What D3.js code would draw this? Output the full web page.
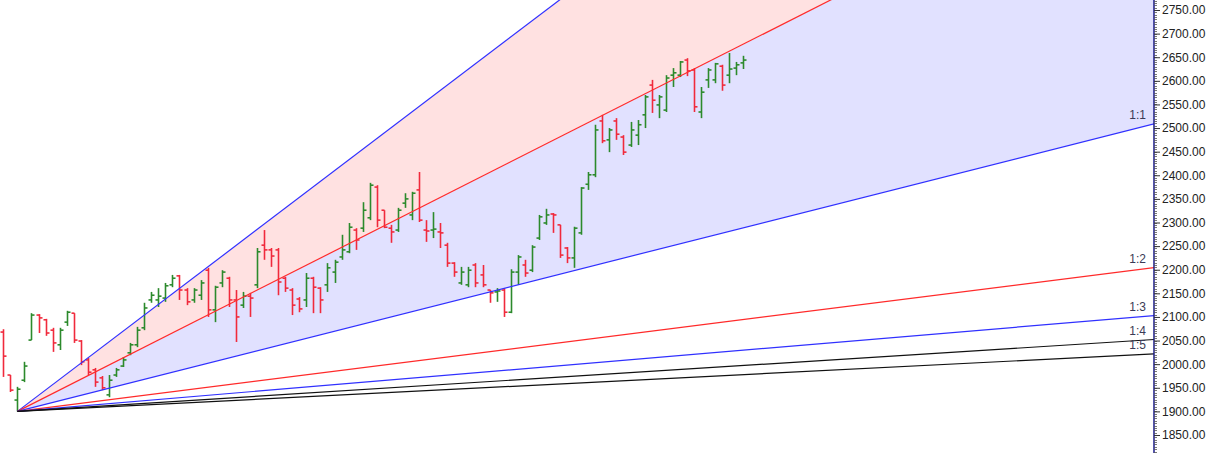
<!DOCTYPE html>
<html><head><meta charset="utf-8">
<script src="https://cdn.jsdelivr.net/npm/d3@7"></script>
<style>html,body{margin:0;padding:0;background:#fff;overflow:hidden}svg{display:block}</style>
</head><body>
<svg id="c" width="1211" height="453"></svg>
<script>
const opens  = [2068,1977,1924,1966,2051,2104,2094,2072,2041,2089,2108,2049,2009,1988,1971,1935,1977,1996,2024,2041,2077,2136,2136,2140,2168,2187,2157,2136,2146,2199,2115,2172,2182,2136,2125,2144,2168,2252,2242,2242,2182,2157,2138,2136,2182,2161,2168,2195,2227,2238,2284,2288,2310,2375,2326,2288,2284,2341,2316,2369,2284,2284,2280,2252,2214,2172,2168,2210,2189,2157,2153,2157,2110,2195,2210,2199,2267,2299,2318,2295,2246,2225,2278,2381,2401,2515,2475,2515,2481,2464,2485,2528,2591,2549,2538,2612,2612,2644,2623,2534,2602,2602,2631,2612,2627,2638];
const highs  = [2074,1977,1952,2005,2108,2106,2096,2077,2077,2113,2108,2051,2013,1992,1975,1977,1992,2015,2045,2079,2130,2153,2161,2172,2189,2189,2161,2161,2178,2204,2166,2199,2185,2157,2153,2151,2246,2284,2246,2246,2185,2161,2142,2193,2185,2163,2214,2221,2274,2299,2288,2343,2384,2379,2326,2295,2331,2362,2365,2407,2305,2322,2299,2257,2216,2206,2206,2214,2210,2157,2161,2161,2201,2231,2221,2252,2316,2329,2320,2295,2248,2291,2375,2407,2507,2528,2500,2521,2485,2513,2517,2570,2602,2570,2612,2627,2642,2648,2627,2587,2627,2638,2634,2659,2640,2653];
const lows   = [1973,1941,1900,1962,2051,2066,2060,2026,2030,2081,2045,1998,1977,1952,1945,1930,1973,1994,2019,2036,2072,2130,2121,2132,2163,2136,2125,2130,2136,2100,2089,2163,2121,2047,2119,2100,2161,2221,2206,2146,2153,2104,2110,2121,2108,2108,2153,2172,2221,2235,2242,2280,2305,2290,2288,2257,2280,2331,2305,2301,2259,2267,2246,2206,2185,2168,2163,2163,2163,2130,2132,2100,2108,2168,2185,2195,2263,2295,2278,2225,2214,2204,2274,2369,2396,2468,2449,2475,2443,2460,2464,2500,2532,2521,2534,2587,2608,2610,2534,2521,2585,2595,2579,2595,2612,2625];
const closes = [2017,1945,1947,1996,2104,2098,2066,2045,2072,2110,2051,2005,1983,1962,1950,1966,1988,2009,2041,2072,2119,2146,2144,2166,2182,2157,2132,2157,2172,2115,2163,2195,2136,2100,2144,2140,2238,2242,2229,2174,2161,2125,2117,2182,2163,2136,2204,2216,2242,2290,2263,2326,2379,2305,2290,2280,2326,2350,2362,2305,2282,2286,2278,2214,2195,2195,2199,2172,2168,2151,2155,2110,2195,2227,2193,2248,2312,2316,2316,2231,2225,2288,2373,2401,2496,2473,2496,2487,2449,2496,2507,2566,2559,2566,2606,2617,2640,2621,2545,2576,2623,2636,2591,2625,2634,2644];
const yTicks = [1850,1900,1950,2000,2050,2100,2150,2200,2250,2300,2350,2400,2450,2500,2550,2600,2650,2700,2750];
const fanRatios = [3, 2, 1, 1/2, 1/3, 1/4, 1/5];
const fanNames  = ["3:1","2:1","1:1","1:2","1:3","1:4","1:5"];
const fanColors = ["#3030ff","#ff2a2a","#3030ff","#ff2a2a","#3030ff","#111111","#111111"];
const fanOrigin = {index: 2, price: 1900};
const unitPerBar = 3.775;

const W = 1211, H = 453, axisX = 1154;
const svg = d3.select("#c");
const x = d3.scaleLinear().domain([0, 105]).range([3.3, 743.3]);
const y = d3.scaleLinear().domain([2750, 1850]).range([10, 435]);
const xEnd = x.invert(axisX);

const defs = svg.append("defs");
defs.append("clipPath").attr("id","plot").append("rect").attr("x",0).attr("y",0).attr("width",axisX).attr("height",H);
const g = svg.append("g").attr("clip-path","url(#plot)");

const fanPrice = (r, i) => fanOrigin.price + r * unitPerBar * (i - fanOrigin.index);
const pts = r => [[x(fanOrigin.index), y(fanOrigin.price)], [x(xEnd), y(fanPrice(r, xEnd))]];

// fills
const band = (r1, r2, col) => {
  const a = pts(r1), b = pts(r2);
  g.append("path").attr("d", d3.line()([a[0], a[1], b[1], b[0]]) + "Z").attr("fill", col).attr("stroke","none");
};
band(3, 2, "#ffe1e1");
band(2, 1, "#e1e1ff");

// bars
const data = opens.map((o,i)=>({i, o, h: highs[i], l: lows[i], c: closes[i]}));
const bars = g.append("g");
data.forEach(d => {
  const col = d.c >= d.o ? "#2c8a2c" : "#f02a3c";
  const cx = Math.round(x(d.i)) + 0.5;
  bars.append("line").attr("x1",cx).attr("x2",cx).attr("y1",y(d.h)).attr("y2",y(d.l)).attr("stroke",col).attr("stroke-width",1.6);
  bars.append("line").attr("x1",cx-3).attr("x2",cx).attr("y1",y(d.o)).attr("y2",y(d.o)).attr("stroke",col).attr("stroke-width",1.6);
  bars.append("line").attr("x1",cx).attr("x2",cx+3).attr("y1",y(d.c)).attr("y2",y(d.c)).attr("stroke",col).attr("stroke-width",1.6);
});

// fan lines
fanRatios.forEach((r, k) => {
  const p = pts(r);
  g.append("line").attr("x1",p[0][0]).attr("y1",p[0][1]).attr("x2",p[1][0]).attr("y2",p[1][1])
    .attr("stroke", fanColors[k]).attr("stroke-width", 1.2);
  const ye = p[1][1];
  if (ye > 0 && ye < H) {
    g.append("text").attr("x", axisX - 8).attr("y", ye - 5).attr("text-anchor","end")
      .attr("font-family","Liberation Sans, Arial, sans-serif").attr("font-size",12).attr("fill","#3a3a55").text(fanNames[k]);
  }
});

// y axis
const ax = svg.append("g").attr("transform",`translate(${axisX},0)`);
ax.append("line").attr("x1",0).attr("x2",0).attr("y1",0).attr("y2",H).attr("stroke","#1a1a8c").attr("stroke-width",1.5);
const minor = d3.range(1800, 2780, 5);
ax.selectAll("line.mn").data(minor).join("line").attr("class","mn")
  .attr("x1",0).attr("x2",3).attr("y1",d=>Math.round(y(d))+0.5).attr("y2",d=>Math.round(y(d))+0.5)
  .attr("stroke","#555").attr("stroke-width",0.8);
const yAxis = d3.axisRight(y).tickValues(yTicks).tickSize(6).tickFormat(d3.format(".2f"));
const ya = ax.append("g").call(yAxis);
ya.select(".domain").remove();
ya.selectAll(".tick line").attr("stroke","#333");
ya.selectAll(".tick text").attr("x",8).attr("font-family","Liberation Sans, Arial, sans-serif").attr("font-size",12).attr("fill","#222");
</script>
</body></html>
